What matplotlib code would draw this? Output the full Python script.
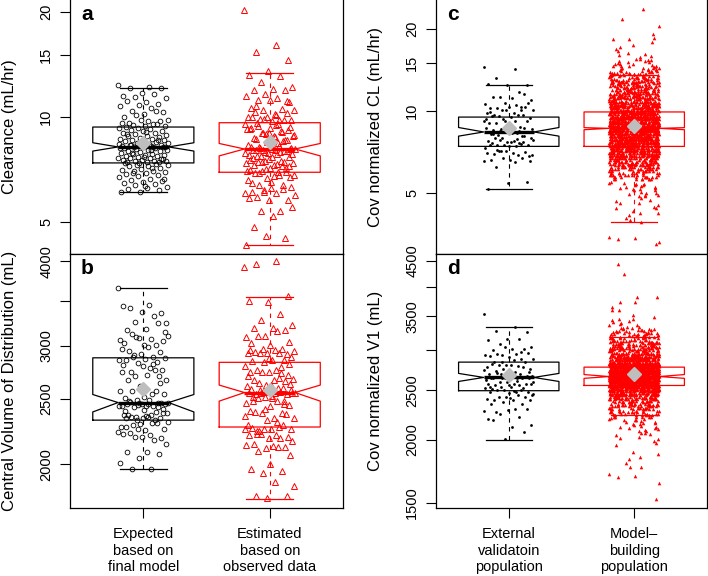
import matplotlib.pyplot as plt
import numpy as np

plt.rcParams['font.family'] = ['Liberation Sans', 'DejaVu Sans']

# ---- values ----
# box summaries: [lower whisker, Q1, median, Q3, upper whisker, notch low, notch high, mean]
box_a_exp = [6.08, 7.37, 8.19, 9.34, 12.1, 7.97, 8.42, 8.38]
box_a_est = [4.30, 6.93, 8.08, 9.61, 13.35, 7.72, 8.38, 8.48]
box_b_exp = [1968, 2326, 2470, 2878, 3647, 2392, 2539, 2586]
box_b_est = [1778, 2272, 2556, 2834, 3548, 2482, 2622, 2582]
box_c_ext = [5.17, 7.40, 8.36, 9.48, 12.43, 8.07, 8.68, 8.65]
box_c_mod = [3.90, 7.40, 8.62, 9.90, 13.5, 8.52, 8.67, 8.82]
box_d_ext = [2000, 2497, 2652, 2843, 3340, 2604, 2701, 2676]
box_d_mod = [2239, 2557, 2663, 2779, 3181, 2641, 2687, 2690]

# panel a: clearance (mL/hr)
a_expected = [12.3, 12.2, 12.1, 12.1, 11.7, 11.5, 11.6, 11.4, 11.3, 11.0, 11.1, 10.9, 10.8,
              10.7, 10.6, 10.4, 10.3, 10.2, 10.0, 10.4, 10.1, 9.8, 9.7, 9.6, 9.7, 9.8, 9.6,
              9.5, 9.45, 9.4, 9.4, 9.35, 9.5, 9.3, 9.25, 9.2, 9.15, 9.1, 9.1, 9.0, 8.95, 8.9,
              8.85, 8.8, 8.8, 8.75, 8.7, 8.65, 8.65, 8.6, 8.55, 8.5, 8.5, 8.45, 8.4, 8.4, 8.35,
              8.3, 8.3, 8.25, 8.25, 8.2, 8.2, 8.2, 9.05, 8.92, 8.58, 8.42, 8.33, 8.22, 8.28,
              8.18, 8.17, 8.15, 8.15, 8.1, 8.05, 8.0, 7.98, 7.95, 7.9, 7.85, 7.82, 7.8, 7.78,
              7.75, 7.7, 7.7, 7.65, 7.62, 7.6, 7.6, 7.55, 7.52, 7.5, 7.48, 7.45, 7.45, 7.42,
              7.4, 7.4, 7.38, 8.12, 8.02, 7.88, 7.58, 7.68, 7.35, 7.3, 7.28, 7.25, 7.2, 7.2,
              7.15, 7.1, 7.05, 7.0, 6.98, 6.95, 6.9, 6.85, 6.8, 6.75, 6.7, 6.65, 6.6, 6.55,
              6.5, 6.45, 6.4, 6.35, 6.3, 6.25, 6.2, 6.15, 6.1, 6.08, 7.12, 6.88, 6.62, 6.32]
a_estimated = [20.2, 16.0, 15.3, 14.5, 13.5, 13.2, 13.1, 12.6, 12.2, 12.0, 11.9, 11.9, 11.6,
               11.5, 11.3, 11.15, 11.0, 11.15, 10.6, 10.5, 10.45, 10.45, 10.2, 10.3, 10.25,
               10.0, 9.95, 9.8, 9.85, 9.8, 9.7, 9.95, 9.8, 9.85, 9.55, 9.45, 9.6, 9.15, 9.0,
               9.2, 9.1, 9.0, 8.8, 8.78, 8.7, 8.6, 8.9, 9.2, 8.4, 8.2, 8.1, 8.35, 8.2, 8.5,
               8.0, 8.1, 8.05, 8.05, 7.95, 7.85, 7.75, 7.9, 7.7, 7.8, 7.65, 7.6, 7.4, 7.45,
               7.35, 7.3, 7.4, 7.2, 7.12, 7.05, 7.2, 6.98, 6.82, 6.78, 6.9, 6.95, 6.67, 6.6,
               6.82, 6.38, 6.3, 6.24, 6.1, 6.38, 6.1, 6.05, 6.05, 5.9, 5.78, 5.78, 5.85, 5.38,
               5.38, 5.5, 5.2, 4.84, 4.5, 4.55, 4.3, 9.5, 9.4, 9.35, 9.3, 9.25, 9.05, 8.95,
               8.85, 8.75, 8.65, 8.55, 8.45, 8.3, 8.25, 8.15, 8.12, 8.08, 8.02, 7.98, 7.92,
               7.88, 7.82, 7.72, 7.68, 7.55, 7.5, 7.48, 7.42, 7.38, 7.28, 7.25, 7.15, 7.1,
               7.0, 6.95, 6.88, 6.72, 6.5, 6.45, 6.2, 6.15, 5.95, 10.1, 10.7, 11.1]

# panel b: central volume of distribution (mL)
b_expected = [3650, 3450, 3410, 3350, 3360, 3440, 3320, 3250, 3240, 3180, 3160, 3240, 3080,
              3060, 3070, 3120, 3050, 3010, 3030, 3010, 3090, 3100, 2990, 2950, 2935, 2920,
              2970, 2890, 2890, 2880, 2870, 2860, 2840, 2830, 2860, 2780, 2745, 2760, 2800,
              2805, 2760, 2700, 2670, 2715, 2670, 2700, 2610, 2570, 2540, 2570, 2540, 2520,
              2505, 2570, 2490, 2470, 2490, 2475, 2465, 2460, 2445, 2440, 2435, 2455, 2445,
              2460, 2465, 2470, 2445, 2365, 2350, 2380, 2340, 2365, 2325, 2350, 2380, 2355,
              2365, 2340, 2295, 2275, 2300, 2285, 2260, 2250, 2275, 2300, 2260, 2235, 2210,
              2225, 2185, 2195, 2215, 2170, 2195, 2145, 2085, 2085, 2070, 2045, 2010, 1970,
              1970, 2420, 2410, 2400, 2390, 2330, 2315, 2455, 2480, 2640, 2600, 2740, 2820,
              2910, 3140, 2360, 2345, 2430, 2450]
b_estimated = [3930, 4000, 3970, 3560, 3480, 3500, 3340, 3270, 3215, 3190, 3185, 3170, 3100,
               3090, 3150, 3100, 3040, 3010, 3030, 2970, 2970, 2945, 2955, 2940, 2915, 2925,
               2925, 2930, 2930, 2890, 2860, 2850, 2860, 2840, 2800, 2760, 2760, 2715, 2740,
               2745, 2730, 2745, 2680, 2665, 2665, 2655, 2620, 2610, 2600, 2640, 2635, 2625,
               2590, 2600, 2560, 2555, 2550, 2545, 2540, 2560, 2555, 2558, 2552, 2548, 2505,
               2480, 2485, 2520, 2465, 2480, 2505, 2450, 2440, 2400, 2380, 2380, 2340, 2345,
               2395, 2375, 2330, 2290, 2275, 2245, 2260, 2260, 2265, 2290, 2260, 2260, 2210,
               2215, 2195, 2185, 2210, 2185, 2220, 2165, 2130, 2145, 2120, 2115, 2135, 2120,
               2090, 2065, 2005, 1970, 1955, 1940, 1860, 1880, 1795, 1795, 1780, 2700, 2690,
               2580, 2575, 2530, 2515, 2460, 2420, 2360, 2310, 2240, 2815, 2880, 2960, 2790]

# panel c: covariate normalized CL (mL/hr)
c_external = [14.5, 14.2, 13.2, 12.45, 12.45, 12.5, 11.75, 11.2, 10.95, 11.1, 11.25, 11.5,
              10.7, 10.55, 10.5, 10.2, 10.65, 10.35, 10.2, 10.35, 10.05, 10.05, 9.8, 9.65,
              10.35, 10.05, 9.8, 9.67, 9.55, 9.4, 9.45, 9.55, 9.67, 9.3, 9.14, 9.14, 9.0, 9.14,
              8.9, 9.0, 8.75, 8.58, 8.58, 8.68, 8.52, 8.63, 8.52, 8.68, 8.3, 8.16, 8.35, 8.35,
              8.2, 8.05, 7.95, 7.82, 7.75, 7.95, 8.35, 7.66, 7.75, 7.6, 7.82, 7.93, 7.66, 7.6,
              7.66, 7.48, 7.29, 7.4, 7.48, 7.48, 7.4, 7.48, 7.52, 7.1, 6.9, 7.0, 6.94, 7.05,
              7.13, 7.0, 6.9, 7.1, 6.52, 6.6, 6.6, 6.7, 6.7, 6.52, 6.48, 6.24, 5.5, 5.45, 5.17,
              8.4, 8.45, 8.36, 8.3, 8.25, 8.1, 9.2, 9.35, 7.85, 7.2, 6.8, 8.8, 9.9, 10.1]
c_model_low = [5.45, 5.4, 5.38, 5.35, 5.3, 5.27, 5.25, 5.2, 5.17, 5.15, 5.1, 5.05, 5.0, 4.95,
               4.9, 4.88, 4.85, 4.8, 4.72, 4.65, 4.58, 4.58, 4.5, 4.45, 4.4, 4.4, 4.3, 4.22,
               4.22, 4.15, 4.05, 3.97, 3.9, 3.45, 3.4, 3.38, 3.3, 3.25, 5.48, 5.42, 5.32,
               5.22, 5.12, 4.98, 4.92]
c_model_high = [14.5, 14.6, 14.6, 14.7, 14.8, 14.8, 14.9, 15.0, 15.1, 15.2, 15.2, 15.4, 15.5,
                15.5, 15.7, 15.9, 16.0, 16.2, 16.3, 16.6, 16.8, 17.1, 17.5, 17.9, 18.4, 18.4,
                18.5, 19.2, 20.5, 21.7, 23.6, 14.55, 14.65, 15.05, 15.3]
# dense core of the model-building cloud: level and number of points read at each level
c_model_levels = [5.6, 5.7, 5.8, 5.9, 6.0, 6.1, 6.2, 6.3, 6.4, 6.5,
                  6.6, 6.7, 6.8, 6.9, 7.0, 7.1, 7.2, 7.3, 7.4, 7.5,
                  7.6, 7.7, 7.8, 7.9, 8.0, 8.1, 8.2, 8.3, 8.4, 8.5,
                  8.6, 8.7, 8.8, 8.9, 9.0, 9.1, 9.2, 9.3, 9.4, 9.5,
                  9.6, 9.7, 9.8, 9.9, 10.0, 10.1, 10.2, 10.3, 10.4, 10.5,
                  10.6, 10.7, 10.8, 10.9, 11.0, 11.1, 11.2, 11.3, 11.4, 11.5,
                  11.6, 11.7, 11.8, 11.9, 12.0, 12.1, 12.2, 12.3, 12.4, 12.5,
                  12.6, 12.7, 12.8, 12.9, 13.0, 13.1, 13.2, 13.3, 13.4, 13.5,
                  13.6, 13.7, 13.8, 13.9, 14.0, 14.1, 14.2, 14.3, 14.4]
c_model_counts = [8, 9, 10, 11, 12, 14, 15, 17, 18, 20,
                  21, 23, 24, 26, 27, 28, 29, 30, 30, 31,
                  31, 32, 32, 32, 32, 32, 32, 31, 31, 30,
                  30, 30, 30, 30, 30, 29, 29, 28, 28, 27,
                  26, 25, 23, 23, 22, 21, 20, 19, 18, 17,
                  16, 16, 15, 14, 14, 13, 13, 12, 12, 11,
                  11, 10, 10, 10, 9, 9, 9, 9, 8, 8,
                  8, 8, 7, 7, 7, 7, 6, 6, 6, 6,
                  5, 5, 4, 4, 4, 3, 3, 2, 2]

# panel d: covariate normalized V1 (mL)
d_external = [3540, 3340, 3280, 3255, 3160, 3140, 3160, 3090, 3044, 3020, 3000, 3020, 3050,
              2935, 2954, 2945, 2960, 2910, 2920, 2975, 2930, 2890, 2865, 2845, 2845, 2800,
              2780, 2790, 2800, 2760, 2800, 2820, 2780, 2760, 2740, 2720, 2730, 2675, 2655,
              2690, 2697, 2690, 2675, 2697, 2650, 2660, 2650, 2640, 2648, 2660, 2650, 2660,
              2640, 2650, 2645, 2597, 2577, 2557, 2577, 2597, 2577, 2557, 2597, 2577, 2538,
              2520, 2530, 2508, 2530, 2480, 2500, 2480, 2470, 2480, 2500, 2538, 2445, 2397,
              2390, 2425, 2432, 2408, 2445, 2425, 2390, 2420, 2354, 2354, 2372, 2282, 2300,
              2265, 2300, 2290, 2200, 2215, 2249, 2135, 2117, 2190, 2070, 2008, 2620, 2610,
              2700, 2720, 2560, 2545, 2880, 2840, 2460, 2490]
d_model_low = [2200, 2195, 2190, 2185, 2179, 2170, 2166, 2158, 2150, 2145, 2137, 2130, 2116,
               2106, 2098, 2090, 2075, 2064, 2050, 2039, 2027, 2015, 2002, 1990, 1965, 1953,
               1887, 1875, 1851, 1827, 1800, 1766, 1764, 1710, 1697, 1690, 1640, 1528, 2205,
               2182, 2160, 2122, 2110, 2084, 2058]
d_model_high = [3365, 3365, 3390, 3415, 3440, 3465, 3465, 3490, 3520, 3600, 3600, 3653, 3735,
                3735, 3820, 3820, 4250, 4447, 3380, 3430]
d_model_levels = [2220, 2235, 2250, 2265, 2280, 2295, 2310, 2325, 2340, 2355,
                  2370, 2385, 2400, 2415, 2430, 2445, 2460, 2475, 2490, 2505,
                  2520, 2535, 2550, 2565, 2580, 2595, 2610, 2625, 2640, 2655,
                  2670, 2685, 2700, 2715, 2730, 2745, 2760, 2775, 2790, 2805,
                  2820, 2835, 2850, 2865, 2880, 2895, 2910, 2925, 2940, 2955,
                  2970, 2985, 3000, 3015, 3030, 3045, 3060, 3075, 3090, 3105,
                  3120, 3135, 3150, 3165, 3180, 3195, 3210, 3225, 3240, 3255,
                  3270, 3285, 3300, 3315, 3330]
d_model_counts = [6, 7, 7, 8, 8, 9, 9, 10, 10, 11,
                  12, 13, 14, 15, 16, 18, 20, 22, 25, 28,
                  33, 38, 43, 48, 53, 56, 58, 60, 61, 61,
                  60, 59, 57, 54, 52, 49, 45, 42, 38, 35,
                  31, 28, 25, 23, 21, 19, 18, 16, 15, 14,
                  14, 13, 12, 11, 11, 10, 10, 9, 9, 8,
                  8, 8, 7, 7, 6, 6, 5, 5, 5, 4,
                  4, 4, 3, 3, 2]

c_model = np.concatenate([c_model_low, np.repeat(c_model_levels, c_model_counts), c_model_high])
d_model = np.concatenate([d_model_low, np.repeat(d_model_levels, d_model_counts), d_model_high])

labels_ab = ['Expected\nbased on\nfinal model', 'Estimated\nbased on\nobserved data']
labels_cd = ['External\nvalidatoin\npopulation', 'Model\u2013\nbuilding\npopulation']

RED = '#FF0000'
GREY = '#BEBEBE'


def stats(v):
    return dict(whislo=v[0], q1=v[1], med=v[2], q3=v[3], whishi=v[4],
                cilo=v[5], cihi=v[6], mean=v[7], fliers=[])


def spread(n, pos, dense=False):
    # deterministic horizontal scatter of the points around the box centre (+-0.2)
    i = np.arange(n, dtype=float)
    f = i * 0.6180339887
    if dense:
        f = f + i * i * 0.0731   # breaks up the row pattern of the big clouds
    return pos + (f % 1.0 - 0.5) * 0.4


def draw_boxes(ax, boxes, colors):
    art = ax.bxp([stats(b) for b in boxes], positions=[1, 2], widths=0.8,
                 shownotches=True, showmeans=True, showfliers=False, capwidths=0.37,
                 boxprops=dict(linewidth=0.9), whiskerprops=dict(linewidth=0.8, linestyle=(0, (4, 4))),
                 capprops=dict(linewidth=0.9), medianprops=dict(linewidth=2.4),
                 meanprops=dict(marker='D', markerfacecolor=GREY, markeredgecolor=GREY,
                                markersize=7.5), manage_ticks=False)
    for i, c in enumerate(colors):
        art['boxes'][i].set_color(c)
        art['medians'][i].set_color(c)
        for ln in art['whiskers'][2 * i:2 * i + 2] + art['caps'][2 * i:2 * i + 2]:
            ln.set_color(c)
        art['means'][i].set_zorder(5)


def setup(ax, ylim, ticks, ticklabels, ylabel, letter, xlabels=None):
    ax.set_yscale('log')
    ax.set_ylim(ylim)
    ax.set_xlim(0.42, 2.58)
    ax.set_yticks(ticks, ticklabels, rotation=90, va='center', fontsize=10.5)
    ax.yaxis.set_minor_locator(plt.NullLocator())
    ax.tick_params(axis='both', length=7, width=0.8, pad=5)
    if xlabels is None:
        ax.tick_params(axis='x', bottom=False, labelbottom=False)
        ax.spines['top'].set_visible(False)
    else:
        ax.set_xticks([1, 2], xlabels, fontsize=10.5, linespacing=1.2)
        ax.tick_params(axis='x', pad=7)
    for s in ax.spines.values():
        s.set_linewidth(0.9)
    ax.set_ylabel(ylabel, fontsize=12)
    ax.yaxis.set_label_coords(-0.196, 0.5)
    ax.annotate(letter, xy=(0, 1), xycoords='axes fraction', xytext=(11, -20),
                textcoords='offset pixels', fontsize=15, fontweight='bold',
                ha='left', va='baseline')


fig = plt.figure(figsize=(7.08, 5.76), dpi=100)
ax_a = fig.add_axes([0.0989, 0.559, 0.3856, 0.441])
ax_b = fig.add_axes([0.0989, 0.1181, 0.3856, 0.4409])
ax_c = fig.add_axes([0.6158, 0.559, 0.3828, 0.441])
ax_d = fig.add_axes([0.6158, 0.1181, 0.3828, 0.4409])

# a
draw_boxes(ax_a, [box_a_exp, box_a_est], ['black', RED])
ax_a.plot(spread(len(a_expected), 1), a_expected, 'o', mfc='none', mec='black', ms=3.4, mew=0.6, zorder=3)
ax_a.plot(spread(len(a_estimated), 2), a_estimated, '^', mfc='none', mec=RED, ms=4.0, mew=0.7, zorder=3)
setup(ax_a, (4.04, 21.6), [5, 10, 15, 20], ['5', '10', '15', '20'], 'Clearance (mL/hr)', 'a')

# b
draw_boxes(ax_b, [box_b_exp, box_b_est], ['black', RED])
ax_b.plot(spread(len(b_expected), 1), b_expected, 'o', mfc='none', mec='black', ms=3.4, mew=0.6, zorder=3)
ax_b.plot(spread(len(b_estimated), 2), b_estimated, '^', mfc='none', mec=RED, ms=4.0, mew=0.7, zorder=3)
setup(ax_b, (1723, 4103), [2000, 2500, 3000, 3500, 4000], ['2000', '2500', '3000', '', '4000'],
      'Central Volume of Distribution (mL)', 'b', labels_ab)

# c
draw_boxes(ax_c, [box_c_ext, box_c_mod], ['black', RED])
ax_c.plot(spread(len(c_external), 1), c_external, 'o', color='black', ms=2.0, mew=0, zorder=3)
ax_c.plot(spread(len(c_model), 2, dense=True), c_model, '^', color=RED, ms=2.6, mew=0, zorder=3)
setup(ax_c, (2.98, 25.5), [5, 10, 15, 20], ['5', '10', '15', '20'], 'Cov normalized CL (mL/hr)', 'c')

# d
draw_boxes(ax_d, [box_d_ext, box_d_mod], ['black', RED])
ax_d.plot(spread(len(d_external), 1), d_external, 'o', color='black', ms=2.0, mew=0, zorder=3)
ax_d.plot(spread(len(d_model), 2, dense=True), d_model, '^', color=RED, ms=2.6, mew=0, zorder=3)
setup(ax_d, (1466, 4645), [1500, 2000, 2500, 3000, 3500, 4000, 4500],
      ['1500', '2000', '2500', '', '3500', '', '4500'], 'Cov normalized V1 (mL)', 'd', labels_cd)

fig.savefig('out.png', dpi=100)
